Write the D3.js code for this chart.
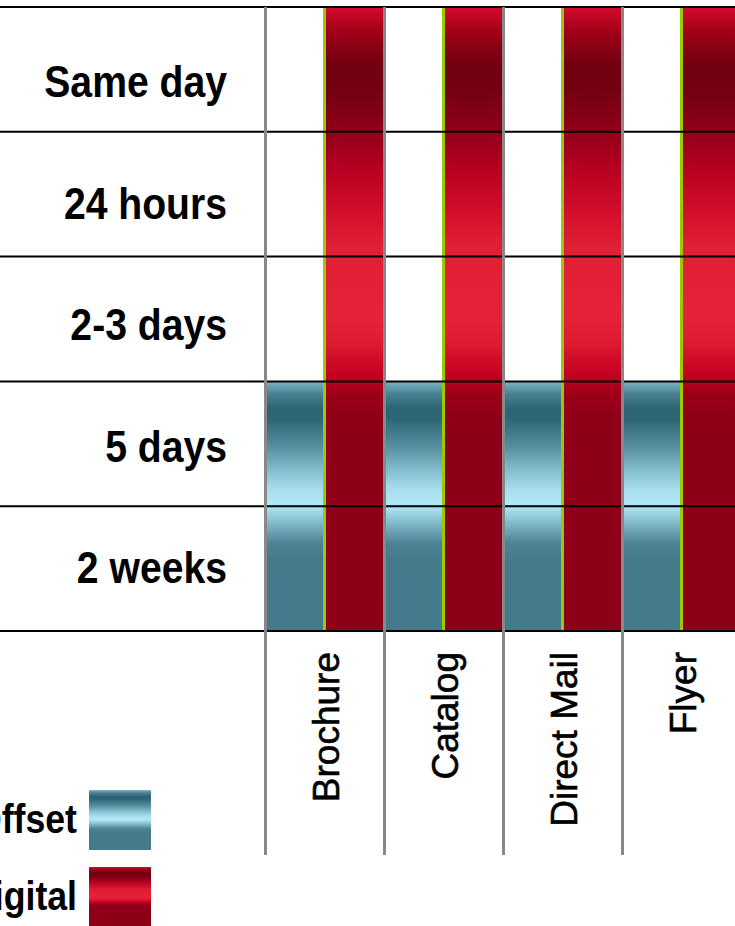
<!DOCTYPE html>
<html>
<head>
<meta charset="utf-8">
<script src="https://cdn.jsdelivr.net/npm/d3@7"></script>
<style>
  body { margin: 0; background: #fff; }
  .rowLabel, .legendLabel { font-family: "Liberation Sans", Arial, sans-serif; font-weight: bold; font-size: 45px; fill: #000; }
  .legendLabel { font-size: 41px; }
  .colLabel { font-family: "Liberation Sans", Arial, sans-serif; font-size: 37px; fill: #000; stroke: #000; stroke-width: 0.6px; }
</style>
</head>
<body>
<div id="chart"></div>
<script>
//Chart data
var products = ["Brochure", "Catalog", "Direct Mail", "Flyer"];
var turnaround = ["Same day", "24 hours", "2-3 days", "5 days", "2 weeks"];
var offsetFastest = ["5 days", "5 days", "5 days", "5 days"];
var digitalFastest = ["Same day", "Same day", "Same day", "Same day"];
var legendNames = ["Offset", "Digital"];

//Layout
var width = 735, height = 926;
var gridLeft = 265, gridTop = 7, gridBottom = 631;
var colWidth = 119;
var offsetWidth = 58;
var narrow = 0.87; //horizontal squeeze to imitate a condensed face

var svg = d3.select("#chart").append("svg")
    .attr("width", width)
    .attr("height", height);

var x = d3.scaleBand()
    .domain(products)
    .range([gridLeft, gridLeft + colWidth * products.length]);

var y = d3.scaleBand()
    .domain(turnaround)
    .range([gridTop, gridBottom]);

//Label baselines sit a little off the row centres in the original
var yLabel = d3.scalePoint()
    .domain(turnaround)
    .range([97, 583]);

//Gradients (vertical, stretched over each bar)
var defs = svg.append("defs");
function addGradient(id, stops) {
    var g = defs.append("linearGradient")
        .attr("id", id)
        .attr("x1", 0).attr("y1", 0).attr("x2", 0).attr("y2", 1);
    stops.forEach(function (s) {
        g.append("stop").attr("offset", s[0]).attr("stop-color", s[1]);
    });
}
addGradient("gradDigital", [
    [0, "#d40c2e"], [0.04, "#a00018"], [0.09, "#74000f"], [0.13, "#720010"],
    [0.19, "#8c0018"], [0.25, "#b00020"], [0.31, "#cc0a28"], [0.38, "#e01e34"],
    [0.5, "#e42238"], [0.54, "#dc1a30"], [0.59, "#c40022"], [0.62, "#9c0018"],
    [0.66, "#8e0018"], [1, "#8c0018"]
]);
addGradient("gradOffset", [
    [0, "#7cb4c4"], [0.05, "#4a8294"], [0.11, "#2c6474"], [0.15, "#2e6676"],
    [0.27, "#5a92a4"], [0.35, "#80bccc"], [0.43, "#a8dcec"], [0.49, "#b0e8f8"],
    [0.51, "#a8e0f0"], [0.57, "#80b8c8"], [0.65, "#4c8294"], [0.71, "#447a8a"],
    [1, "#447a8c"]
]);

//Offset bars
svg.selectAll(".offsetBar")
    .data(products)
    .enter().append("rect")
    .attr("class", "offsetBar")
    .attr("x", function (d) { return x(d); })
    .attr("width", offsetWidth)
    .attr("y", function (d, i) { return y(offsetFastest[i]); })
    .attr("height", function (d, i) { return gridBottom - y(offsetFastest[i]); })
    .attr("fill", "url(#gradOffset)");

//Digital bars
svg.selectAll(".digitalBar")
    .data(products)
    .enter().append("rect")
    .attr("class", "digitalBar")
    .attr("x", function (d) { return x(d) + offsetWidth; })
    .attr("width", colWidth - offsetWidth)
    .attr("y", function (d, i) { return y(digitalFastest[i]); })
    .attr("height", function (d, i) { return gridBottom - y(digitalFastest[i]); })
    .attr("fill", "url(#gradDigital)");

//Green edge on the digital bars
svg.selectAll(".digitalEdge")
    .data(products)
    .enter().append("line")
    .attr("x1", function (d) { return x(d) + offsetWidth + 1.5; })
    .attr("x2", function (d) { return x(d) + offsetWidth + 1.5; })
    .attr("y1", function (d, i) { return y(digitalFastest[i]); })
    .attr("y2", gridBottom)
    .attr("stroke", "#99cc00")
    .attr("stroke-width", 3);

//Horizontal row lines
var rowEdges = turnaround.map(function (t) { return y(t); }).concat([gridBottom]);
svg.selectAll(".rowLine")
    .data(rowEdges)
    .enter().append("line")
    .attr("x1", 0).attr("x2", width)
    .attr("y1", function (d) { return d; })
    .attr("y2", function (d) { return d; })
    .attr("stroke", "#000")
    .attr("stroke-width", 2);

//Vertical column lines
svg.selectAll(".colLine")
    .data(products)
    .enter().append("line")
    .attr("x1", function (d) { return x(d) + 0.5; })
    .attr("x2", function (d) { return x(d) + 0.5; })
    .attr("y1", gridTop)
    .attr("y2", 855)
    .attr("stroke", "#888")
    .attr("stroke-width", 3);

//Row labels
svg.selectAll(".rowLabel")
    .data(turnaround)
    .enter().append("text")
    .attr("class", "rowLabel")
    .attr("text-anchor", "end")
    .attr("transform", function (d) {
        return "translate(227," + yLabel(d) + ") scale(" + narrow + ",1)";
    })
    .text(function (d) { return d; });

//Column labels (rotated)
svg.selectAll(".colLabel")
    .data(products)
    .enter().append("text")
    .attr("class", "colLabel")
    .attr("text-anchor", "end")
    .attr("transform", function (d) {
        return "translate(" + (x(d) + x.bandwidth() / 2 + 14) + ",652) rotate(-90)";
    })
    .text(function (d) { return d; });

//Legend
var legendGradients = ["url(#gradOffset)", "url(#gradDigital)"];
var legend = svg.selectAll(".legendItem")
    .data(legendNames)
    .enter().append("g")
    .attr("class", "legendItem")
    .attr("transform", function (d, i) { return "translate(0," + (790 + i * 77) + ")"; });

legend.append("rect")
    .attr("x", 89)
    .attr("width", 62)
    .attr("height", 60)
    .attr("fill", function (d, i) { return legendGradients[i]; });

legend.append("text")
    .attr("class", "legendLabel")
    .attr("text-anchor", "end")
    .attr("transform", "translate(77,43) scale(" + narrow + ",1)")
    .text(function (d) { return d; });
</script>
</body>
</html>
